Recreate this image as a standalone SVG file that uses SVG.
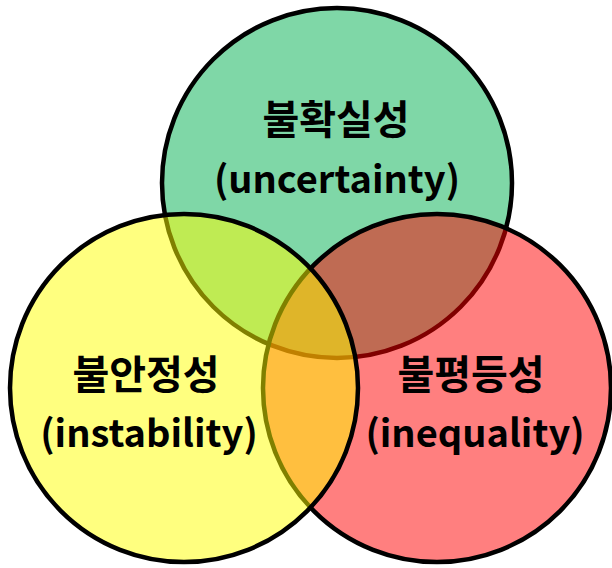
<svg xmlns="http://www.w3.org/2000/svg" width="612" height="568" viewBox="0 0 612 568">
  <style>
    .c { stroke: #000; stroke-width: 4.5; fill-opacity: 0.5; }
    .ko { font-family: "Noto Sans CJK KR", "Malgun Gothic", sans-serif; font-weight: bold; font-size: 40px; fill: #000; text-anchor: middle; }
    .en { font-family: "Noto Sans CJK KR", "Noto Sans", sans-serif; font-weight: bold; font-size: 38px; fill: #000; text-anchor: middle; }
  </style>
  <rect width="612" height="568" fill="#fff"/>
  <g id="uncertainty-circle">
    <circle class="c" cx="337" cy="183" r="175" fill="#00B050"/>
  </g>
  <g id="inequality-circle">
    <circle class="c" cx="437" cy="388" r="174" fill="#FF0000"/>
  </g>
  <g id="instability-circle">
    <circle class="c" cx="184" cy="388" r="174" fill="#FFFF00"/>
  </g>
  <g id="uncertainty">
    <text class="ko" x="336" y="134">불확실성</text>
    <text class="en" x="337" y="193">(uncertainty)</text>
  </g>
  <g id="instability">
    <text class="ko" x="146" y="389">불안정성</text>
    <text class="en" x="149" y="447">(instability)</text>
  </g>
  <g id="inequality">
    <text class="ko" x="471" y="389">불평등성</text>
    <text class="en" x="475" y="447">(inequality)</text>
  </g>
  <g id="connectors"></g>
</svg>
